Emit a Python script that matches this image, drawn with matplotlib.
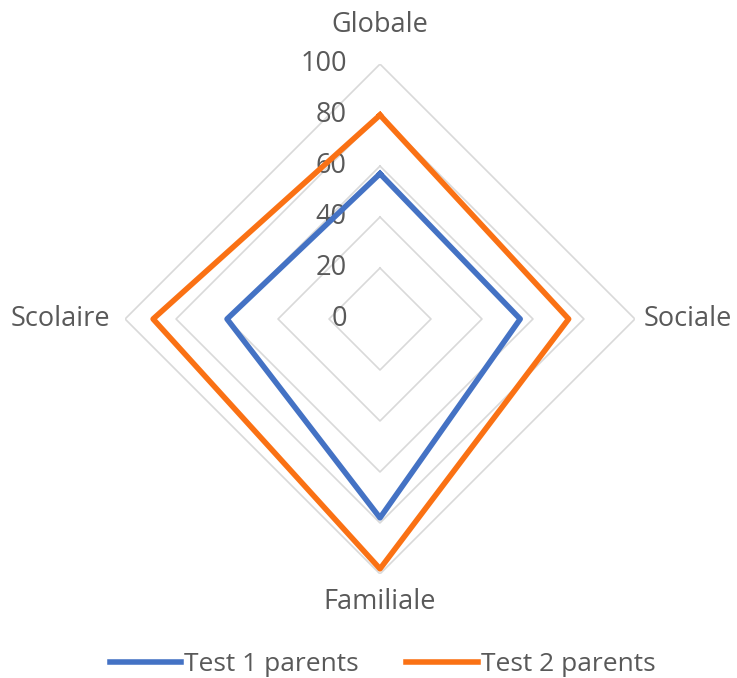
import numpy as np
import matplotlib
matplotlib.use("Agg")
import matplotlib.pyplot as plt

categories = ["Globale", "Sociale", "Familiale", "Scolaire"]
test1 = [57, 55, 78, 60]
test2 = [80, 74, 98, 89]
levels = [0, 20, 40, 60, 80, 100]

plt.rcParams['font.family'] = ['Open Sans', 'DejaVu Sans']
text_color = '#595959'
fs = 19.5

angles = np.linspace(0, 2 * np.pi, len(categories), endpoint=False)
closed = np.append(angles, angles[0])

fig = plt.figure(figsize=(7.37, 6.78), dpi=100)
ax = fig.add_axes([0.1696, 0.1535, 0.692, 0.752], projection='polar')
ax.set_theta_offset(np.pi / 2)
ax.set_theta_direction(-1)
ax.set_ylim(0, 100)
ax.grid(False)
ax.spines['polar'].set_visible(False)
ax.set_yticks([])
ax.set_xticks([])

# diamond grid
for lv in levels[1:]:
    ax.plot(closed, [lv] * len(closed), color='#d9d9d9', lw=1.2, zorder=1)

# value labels along the top axis
for lv in levels:
    ax.annotate(str(lv), xy=(0, lv), xytext=(-24, 0), textcoords='offset points',
                ha='right', va='center', fontsize=fs, color=text_color)

ax.plot(closed, test1 + test1[:1], color='#4472C4', lw=4, label='Test 1 parents', zorder=3)
ax.plot(closed, test2 + test2[:1], color='#FA7114', lw=4, label='Test 2 parents', zorder=3)

# category labels just outside the outer diamond
offsets = [(0, 28, 'center'), (6, 0, 'left'), (0, -20, 'center'), (-11, 0, 'right')]
for ang, name, (dx, dy, ha) in zip(angles, categories, offsets):
    ax.annotate(name, xy=(ang, 100), xytext=(dx, dy), textcoords='offset points',
                ha=ha, va='center', fontsize=fs, color=text_color)

fig.legend(loc='center', ncol=2, frameon=False, fontsize=19,
           bbox_to_anchor=(0.519, 0.02), handlelength=2.7, handletextpad=0.12,
           columnspacing=1.8, labelcolor=text_color)

fig.savefig('out.png', dpi=100)
